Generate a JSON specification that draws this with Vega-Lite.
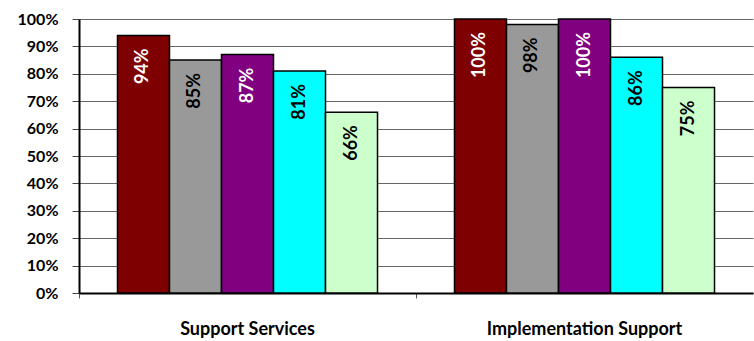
{
  "$schema": "https://vega.github.io/schema/vega-lite/v6.json",
  "width": 674,
  "height": 274,
  "autosize": {"type": "none"},
  "padding": {"left": 79, "top": 19, "right": 1, "bottom": 48},
  "background": "white",
  "config": {
    "view": {"stroke": null},
    "font": "Lato"
  },
  "data": {
    "values": [
      {"group": "Support Services", "series": "s1", "value": 0.94, "label": "94%"},
      {"group": "Support Services", "series": "s2", "value": 0.85, "label": "85%"},
      {"group": "Support Services", "series": "s3", "value": 0.87, "label": "87%"},
      {"group": "Support Services", "series": "s4", "value": 0.81, "label": "81%"},
      {"group": "Support Services", "series": "s5", "value": 0.66, "label": "66%"},
      {"group": "Implementation Support", "series": "s1", "value": 1.0, "label": "100%"},
      {"group": "Implementation Support", "series": "s2", "value": 0.98, "label": "98%"},
      {"group": "Implementation Support", "series": "s3", "value": 1.0, "label": "100%"},
      {"group": "Implementation Support", "series": "s4", "value": 0.86, "label": "86%"},
      {"group": "Implementation Support", "series": "s5", "value": 0.75, "label": "75%"}
    ]
  },
  "encoding": {
    "x": {
      "field": "group",
      "type": "nominal",
      "sort": ["Support Services", "Implementation Support"],
      "scale": {"paddingInner": 0, "paddingOuter": 0},
      "axis": {
        "title": null,
        "labelAngle": 0,
        "labelFontSize": 18,
        "labelFontWeight": "bold",
        "labelColor": "black",
        "labelLimit": 0,
        "labelPadding": 22,
        "bandPosition": 0,
        "tickColor": "#555",
        "tickSize": 5,
        "domainColor": "black",
        "domainWidth": 2
      }
    },
    "xOffset": {
      "field": "series",
      "type": "nominal",
      "scale": {"paddingInner": 0, "paddingOuter": 0.74}
    },
    "y": {
      "field": "value",
      "type": "quantitative",
      "scale": {"domain": [0, 1], "nice": false},
      "axis": {
        "title": null,
        "format": ".0%",
        "values": [0, 0.1, 0.2, 0.3, 0.4, 0.5, 0.6, 0.7, 0.8, 0.9, 1.0],
        "labelOverlap": false,
        "labelFontSize": 16,
        "labelFontWeight": "bold",
        "labelColor": "black",
        "labelPadding": 14,
        "tickSize": 7,
        "tickColor": "#444",
        "domainColor": "black",
        "domainWidth": 2,
        "grid": true,
        "gridColor": "#666",
        "gridWidth": 1.2
      }
    }
  },
  "layer": [
    {
      "mark": {"type": "bar", "stroke": "black", "strokeWidth": 1.5},
      "encoding": {
        "color": {
          "field": "series",
          "type": "nominal",
          "scale": {
            "domain": ["s1", "s2", "s3", "s4", "s5"],
            "range": ["#7f0000", "#999999", "#800080", "#00ffff", "#ccffcc"]
          },
          "legend": null
        }
      }
    },
    {
      "mark": {
        "type": "text",
        "angle": 270,
        "align": "right",
        "baseline": "middle",
        "dx": -13,
        "fontSize": 18,
        "fontWeight": "bold"
      },
      "encoding": {
        "text": {"field": "label"},
        "color": {
          "field": "series",
          "type": "nominal",
          "scale": {
            "domain": ["s1", "s2", "s3", "s4", "s5"],
            "range": ["white", "black", "white", "black", "black"]
          },
          "legend": null
        }
      }
    }
  ],
  "resolve": {"scale": {"color": "independent"}}
}
